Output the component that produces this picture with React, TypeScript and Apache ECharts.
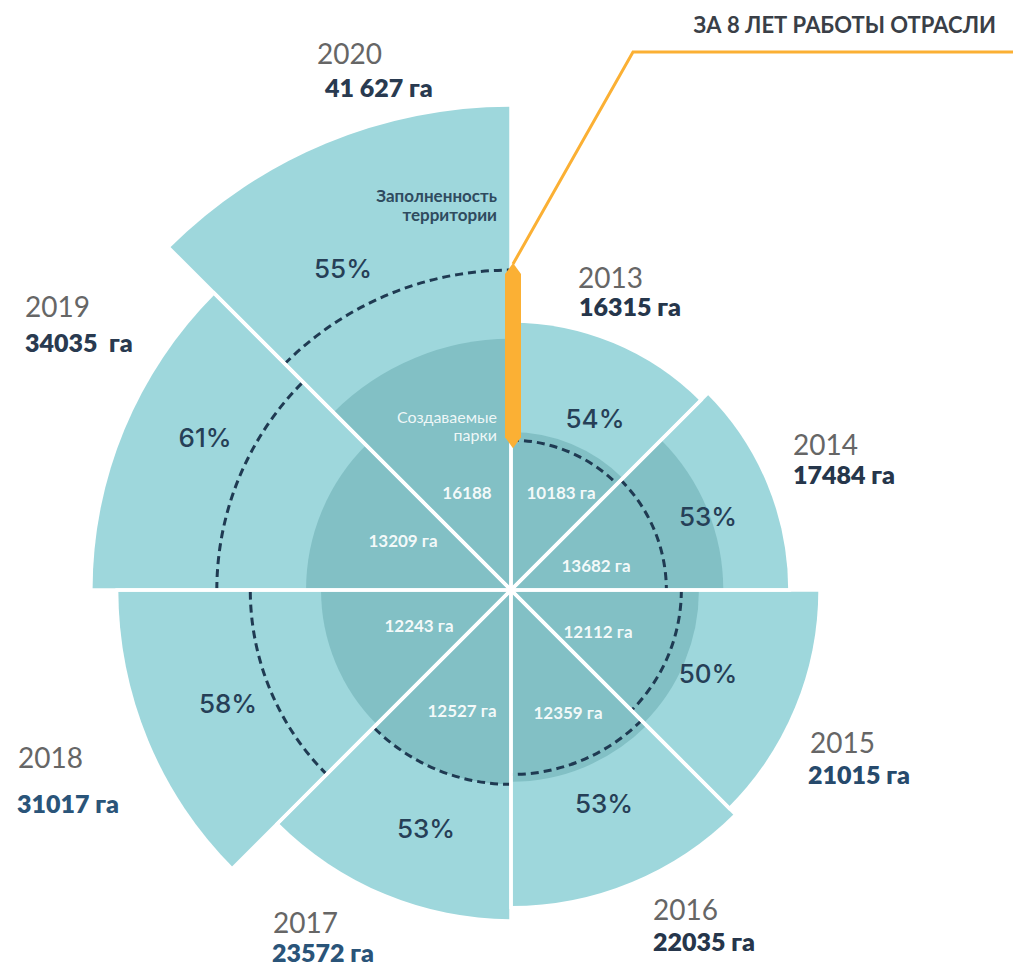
import { useEffect, useRef } from "react";
import * as echarts from "echarts";

// ---------- data ----------
const YEARS = ["2013", "2014", "2015", "2016", "2017", "2018", "2019", "2020"];
const TOTAL_HA = [16315, 17484, 21015, 22035, 23572, 31017, 34035, 41627];
const TOTAL_LABELS = ["16315 га", "17484 га", "21015 га", "22035 га", "23572 га", "31017 га", "34035  га", "41 627 га"];
const PARKS_HA = [10183, 13682, 12112, 12359, 12527, 12243, 13209, 16188];
const PARKS_LABELS = ["10183 га", "13682 га", "12112 га", "12359 га", "12527 га", "12243 га", "13209 га", "16188"];
const OCCUPANCY_PCT = [54, 53, 50, 53, 53, 58, 61, 55];
const TITLE = "ЗА 8 ЛЕТ РАБОТЫ ОТРАСЛИ";
const NOTE_OCCUPANCY = ["Заполненность", "территории"];
const NOTE_PARKS = ["Создаваемые", "парки"];

// occupied area (ha) = total * occupancy share
const OCCUPIED_HA = TOTAL_HA.map((v, i) => (v * OCCUPANCY_PCT[i]) / 100);

// ---------- layout ----------
const CENTER = [511, 590];
const RADIUS = 512;
const FONT = "Lato, 'Open Sans', sans-serif";
const PCT_FONT = "Inter, Lato, sans-serif";
const LIGHT = "#9ed7dc";
const DARK = "#82c0c5";
const NAVY = "#1f3a52";
const ORANGE = "#fbb034";

// [x, yearY, valueX, valueY]
const YEAR_POS = [
  [578, 277, 579, 306],
  [793, 444, 793, 474],
  [810, 742, 808, 774],
  [653, 909, 653, 941],
  [273, 922, 272, 952],
  [18, 757, 17, 803],
  [25, 306, 25, 342],
  [317, 53, 325, 87],
];
const PCT_POS = [
  [595, 418], [708, 516], [708, 673], [604, 803],
  [426, 828], [228, 703], [205, 437], [343, 268],
];
const PARKS_POS = [
  [561, 492], [596, 565], [598, 631], [568, 712],
  [462, 710], [419, 625], [403, 540], [467, 492],
];
const VALUE_COLORS = ["#26364b", "#26364b", "#274a6c", "#26364b", "#2a5479", "#2a5479", "#293a50", "#293a50"];

const HALF = Math.PI / YEARS.length;

function geom(params: any, api: any, value: number, idx: number) {
  const cs = params.coordSys;
  const p = api.coord([value, idx]);
  const dx = p[0] - cs.cx;
  const dy = p[1] - cs.cy;
  return { cx: cs.cx, cy: cs.cy, r: Math.hypot(dx, dy), a: Math.atan2(dy, dx) };
}

function txt(x: number, y: number, text: string, style: any) {
  return {
    type: "text", z: 100, x, y, silent: true,
    style: { text, fontFamily: FONT, verticalAlign: "middle", ...style },
  };
}

function buildOption() {
  const graphic: any[] = [];
  YEARS.forEach((y, i) => {
    const [x, yy, vx, vy] = YEAR_POS[i];
    graphic.push(txt(x, yy, y, { fontSize: 28, fontWeight: 400, fill: "#666666", align: "left" }));
    graphic.push(txt(vx, vy, TOTAL_LABELS[i], { fontSize: 25, fontWeight: 800, fill: VALUE_COLORS[i], align: "left" }));
    graphic.push(txt(PCT_POS[i][0], PCT_POS[i][1], OCCUPANCY_PCT[i] + "%", {
      fontFamily: PCT_FONT, fontSize: 26, fontWeight: 500, fill: "#263f57", align: "center",
    }));
    graphic.push(txt(PARKS_POS[i][0], PARKS_POS[i][1], PARKS_LABELS[i], {
      fontSize: 17, fontWeight: 700, fill: "rgba(255,255,255,0.92)", align: "center",
    }));
  });
  graphic.push(txt(497, 195, NOTE_OCCUPANCY[0], { fontSize: 17, fontWeight: 700, fill: "#2f4b5f", align: "right" }));
  graphic.push(txt(497, 214, NOTE_OCCUPANCY[1], { fontSize: 17, fontWeight: 700, fill: "#2f4b5f", align: "right" }));
  graphic.push(txt(497, 416, NOTE_PARKS[0], { fontSize: 16, fontWeight: 400, fill: "rgba(255,255,255,0.88)", align: "right" }));
  graphic.push(txt(497, 434, NOTE_PARKS[1], { fontSize: 16, fontWeight: 400, fill: "rgba(255,255,255,0.88)", align: "right" }));
  graphic.push(txt(996, 24, TITLE, { fontSize: 22, fontWeight: 700, fill: "#3a3f47", align: "right" }));

  const polarIdx = [0, 1, 2];
  return {
    animation: false,
    backgroundColor: "#ffffff",
    polar: polarIdx.map(() => ({ center: CENTER, radius: RADIUS })),
    angleAxis: polarIdx.map((k) => ({
      polarIndex: k, type: "category", data: YEARS, startAngle: 90, clockwise: true, show: false,
    })),
    radiusAxis: [
      { polarIndex: 0, type: "value", min: -15000, max: 45000, show: false },
      { polarIndex: 1, type: "value", min: 0, max: 33000, show: false },
      { polarIndex: 2, type: "value", min: -3600, max: 38800, show: false },
    ],
    graphic,
    series: [
      {
        name: "Площадь", type: "custom", coordinateSystem: "polar", polarIndex: 0, z: 1, silent: true,
        data: TOTAL_HA.map((v, i) => [v, i]),
        renderItem: (params: any, api: any) => {
          const g = geom(params, api, api.value(0), params.dataIndex);
          return {
            type: "sector",
            shape: { cx: g.cx, cy: g.cy, r0: 0, r: g.r, startAngle: g.a - HALF, endAngle: g.a + HALF, clockwise: true },
            style: { fill: LIGHT },
          };
        },
      },
      {
        name: "Создаваемые парки", type: "custom", coordinateSystem: "polar", polarIndex: 1, z: 2, silent: true,
        data: PARKS_HA.map((v, i) => [v, i]),
        renderItem: (params: any, api: any) => {
          const g = geom(params, api, api.value(0), params.dataIndex);
          return {
            type: "sector",
            shape: { cx: g.cx, cy: g.cy, r0: 0, r: g.r, startAngle: g.a - HALF, endAngle: g.a + HALF, clockwise: true },
            style: { fill: DARK },
          };
        },
      },
      {
        name: "Заполненность", type: "custom", coordinateSystem: "polar", polarIndex: 2, z: 3, silent: true,
        data: OCCUPIED_HA.map((v, i) => [v, i]),
        renderItem: (params: any, api: any) => {
          const g = geom(params, api, api.value(0), params.dataIndex);
          return {
            type: "arc",
            shape: { cx: g.cx, cy: g.cy, r: g.r, startAngle: g.a - HALF, endAngle: g.a + HALF, clockwise: true },
            style: { stroke: NAVY, lineWidth: 3, lineDash: [8, 5], fill: "none" },
          };
        },
      },
      {
        name: "sep", type: "custom", coordinateSystem: "polar", polarIndex: 0, z: 4, silent: true,
        data: TOTAL_HA.map((v, i) => [v, i]),
        renderItem: (params: any, api: any) => {
          const g = geom(params, api, api.value(0), params.dataIndex);
          const rr = g.r + 3;
          const mk = (ang: number) => ({
            type: "line",
            shape: { x1: g.cx, y1: g.cy, x2: g.cx + rr * Math.cos(ang), y2: g.cy + rr * Math.sin(ang) },
            style: { stroke: "#ffffff", lineWidth: 3.5 },
          });
          return { type: "group", children: [mk(g.a - HALF), mk(g.a + HALF)] };
        },
      },
      {
        name: "growth", type: "custom", coordinateSystem: "polar", polarIndex: 2, z: 5, silent: true,
        data: [[OCCUPIED_HA[0], 0]],
        renderItem: (params: any, api: any) => {
          const last = OCCUPIED_HA.length - 1;
          const g1 = geom(params, api, api.value(0), 0);
          const g2 = geom(params, api, OCCUPIED_HA[last], last);
          const x0 = g1.cx + 2;
          const yBot = g1.cy - g1.r + 8;
          const yTop = g1.cy - g2.r - 7;
          const w = 8;
          return {
            type: "group",
            children: [
              {
                type: "polygon",
                shape: {
                  points: [
                    [x0, yTop], [x0 + w, yTop + 11], [x0 + w, yBot - 11],
                    [x0, yBot], [x0 - w, yBot - 11], [x0 - w, yTop + 11],
                  ],
                },
                style: { fill: ORANGE },
              },
              {
                type: "polyline",
                shape: { points: [[x0, yTop + 1], [633, 52], [1013, 52]] },
                style: { stroke: ORANGE, lineWidth: 3, fill: "none" },
              },
            ],
          };
        },
      },
    ],
  };
}

export default function App() {
  const ref = useRef<HTMLDivElement>(null);
  useEffect(() => {
    if (!ref.current) return;
    const chart = echarts.init(ref.current, undefined, { renderer: "svg" });
    chart.setOption(buildOption() as any);
    return () => chart.dispose();
  }, []);
  return (
    <div
      ref={ref}
      style={{ position: "absolute", left: 0, top: 0, width: 1013, height: 967, background: "#ffffff" }}
    />
  );
}
